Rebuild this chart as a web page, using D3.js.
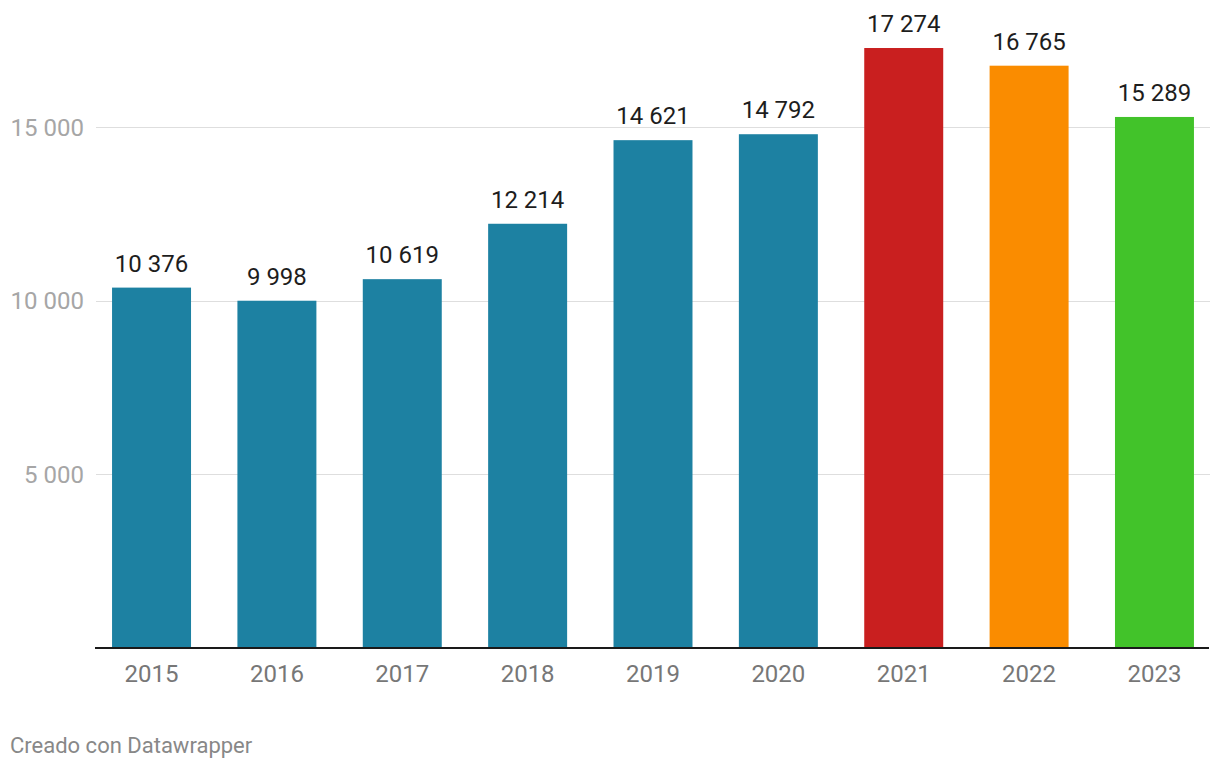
<!DOCTYPE html>
<html><head><meta charset="utf-8">
<script src="https://cdn.jsdelivr.net/npm/d3@7"></script>
<style>
html,body{margin:0;padding:0;background:#fff;}
svg{display:block;font-family:Roboto,"Noto Sans",sans-serif;}
</style></head>
<body>
<svg id="chart" width="1220" height="770"></svg>
<script>
const years = ["2015","2016","2017","2018","2019","2020","2021","2022","2023"];
const values = [10376, 9998, 10619, 12214, 14621, 14792, 17274, 16765, 15289];
const barColors = ["#1d81a2","#1d81a2","#1d81a2","#1d81a2","#1d81a2","#1d81a2","#c91f1f","#fa8c00","#42c32a"];
const yTicks = [5000, 10000, 15000];
const footer = "Creado con Datawrapper";

const svg = d3.select("#chart");
const fmt = v => d3.format(",")(v).replace(/,/g, " ");

const x = d3.scaleBand().domain(years).range([96, 1210]).paddingInner(0.37).paddingOuter(0.128);
const y = d3.scaleLinear().domain([0, 15000]).range([648, 127]);

// gridlines
svg.append("g").selectAll("line").data(yTicks).join("line")
  .attr("x1", 96).attr("x2", 1210)
  .attr("y1", d => Math.round(y(d)) + 0.5).attr("y2", d => Math.round(y(d)) + 0.5)
  .attr("stroke", "#dedede").attr("stroke-width", 1);

// y tick labels
svg.append("g").selectAll("text").data(yTicks).join("text")
  .attr("x", 84).attr("y", d => y(d) + 8.5)
  .attr("text-anchor", "end").attr("font-size", 24).attr("fill", "#a6a6a6")
  .text(d => fmt(d));

// bars
svg.append("g").selectAll("rect").data(values).join("rect")
  .attr("x", (d, i) => x(years[i])).attr("width", x.bandwidth())
  .attr("y", d => y(d)).attr("height", d => y(0) - y(d))
  .attr("fill", (d, i) => barColors[i]);

// value labels
svg.append("g").selectAll("text").data(values).join("text")
  .attr("x", (d, i) => x(years[i]) + x.bandwidth() / 2)
  .attr("y", d => y(d) - 16)
  .attr("text-anchor", "middle").attr("font-size", 24).attr("fill", "#1d1d1d")
  .text(d => fmt(d));

// baseline
svg.append("line").attr("x1", 95).attr("x2", 1209).attr("y1", 648).attr("y2", 648)
  .attr("stroke", "#1a1a1a").attr("stroke-width", 2);

// x labels
svg.append("g").selectAll("text").data(years).join("text")
  .attr("x", d => x(d) + x.bandwidth() / 2).attr("y", 682)
  .attr("text-anchor", "middle").attr("font-size", 24).attr("fill", "#777")
  .text(d => d);

svg.append("text").attr("x", 10).attr("y", 753).attr("font-size", 22).attr("fill", "#888")
  .text(footer);
</script>
</body></html>
